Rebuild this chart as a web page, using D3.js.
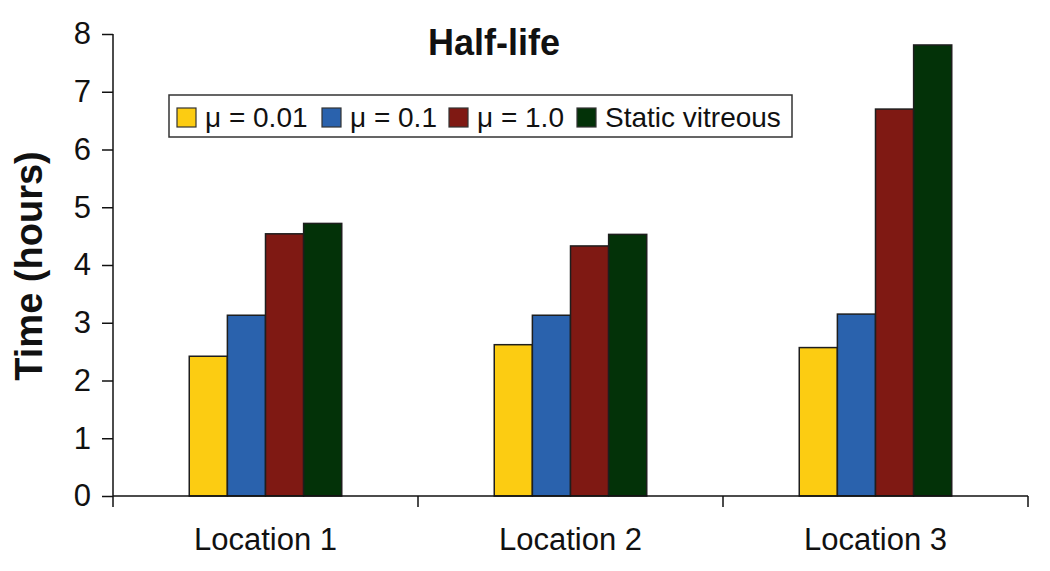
<!DOCTYPE html>
<html>
<head>
<meta charset="utf-8">
<script src="https://cdn.jsdelivr.net/npm/d3@7"></script>
<style>
  body { margin: 0; background: #fff; }
  text { font-family: "Liberation Sans", Arial, sans-serif; fill: #111; }
</style>
</head>
<body>
<div id="chart"></div>
<script>
const categories = ["Location 1", "Location 2", "Location 3"];
const series = ["μ = 0.01", "μ = 0.1", "μ = 1.0", "Static vitreous"];
const colors = ["#fccc12", "#2a62ad", "#7f1913", "#033208"];
// values per series, one per location
const mu001 = [2.42, 2.62, 2.57];
const mu01 = [3.13, 3.13, 3.15];
const mu10 = [4.54, 4.33, 6.70];
const staticV = [4.72, 4.53, 7.81];
const yTicks = [0, 1, 2, 3, 4, 5, 6, 7, 8];

const values = [mu001, mu01, mu10, staticV];

const width = 1050;
const height = 571;
const margin = {left: 113, right: 22, top: 34, bottom: 75};

const svg = d3.select("#chart")
    .append("svg")
    .attr("width", width)
    .attr("height", height);

const x = d3.scaleBand()
    .domain(categories)
    .range([margin.left, width - margin.right])
    .paddingInner(0)
    .paddingOuter(0);

const xInner = d3.scaleBand()
    .domain(series)
    .range([0, x.bandwidth()])
    .paddingOuter(2)   // bars fill the middle half of each band
    .paddingInner(0);

const y = d3.scaleLinear()
    .domain([0, 8])
    .range([height - margin.bottom, margin.top]);

// bars
const groups = svg.selectAll("g.loc")
    .data(categories)
    .enter()
    .append("g")
    .attr("class", "loc")
    .attr("transform", d => "translate(" + x(d) + ",0)");

groups.selectAll("rect")
    .data((d, ci) => series.map((s, si) => ({s: s, v: values[si][ci], i: si})))
    .enter()
    .append("rect")
    .attr("x", d => xInner(d.s))
    .attr("y", d => y(d.v))
    .attr("width", xInner.bandwidth())
    .attr("height", d => y(0) - y(d.v))
    .attr("fill", d => colors[d.i])
    .attr("stroke", "#1e1e1e")
    .attr("stroke-width", 1.5);

// y axis
const yAxis = svg.append("g")
    .attr("transform", "translate(" + margin.left + ",0)")
    .call(d3.axisLeft(y).tickValues(yTicks).tickSize(11).tickPadding(11).tickFormat(d3.format("d")));
yAxis.select(".domain").attr("d", "M0," + y(8) + "V" + (y(0) + 11)).attr("stroke", "#111").attr("stroke-width", 1.5);
yAxis.selectAll(".tick line").attr("stroke", "#111").attr("stroke-width", 1.5);
yAxis.selectAll(".tick text").style("font-size", "31px").attr("fill", "#111");

// x axis: ticks at category boundaries
const xAxis = svg.append("g");
xAxis.append("line")
    .attr("x1", margin.left).attr("x2", width - margin.right)
    .attr("y1", y(0)).attr("y2", y(0))
    .attr("stroke", "#111").attr("stroke-width", 1.5);
const bounds = categories.map(c => x(c)).concat([x(categories[categories.length - 1]) + x.bandwidth()]);
xAxis.selectAll("line.tk")
    .data(bounds.slice(1))
    .enter()
    .append("line")
    .attr("class", "tk")
    .attr("x1", d => d).attr("x2", d => d)
    .attr("y1", y(0)).attr("y2", y(0) + 11)
    .attr("stroke", "#111").attr("stroke-width", 1.5);
xAxis.selectAll("text")
    .data(categories)
    .enter()
    .append("text")
    .attr("x", d => x(d) + x.bandwidth() / 2)
    .attr("y", 550)
    .attr("text-anchor", "middle")
    .style("font-size", "31px")
    .text(d => d);

// title
svg.append("text")
    .attr("x", 494)
    .attr("y", 55)
    .attr("text-anchor", "middle")
    .style("font-size", "36px")
    .style("font-weight", "bold")
    .text("Half-life");

// y label
svg.append("text")
    .attr("transform", "translate(42,266) rotate(-90)")
    .attr("text-anchor", "middle")
    .style("font-size", "38px")
    .style("font-weight", "bold")
    .text("Time (hours)");

// legend
const legend = svg.append("g").attr("transform", "translate(169,95)");
legend.append("rect")
    .attr("width", 623).attr("height", 42)
    .attr("fill", "#fff").attr("stroke", "#333").attr("stroke-width", 1.5);
const legendX = [8, 153, 280, 408];
const items = legend.selectAll("g.item")
    .data(series)
    .enter()
    .append("g")
    .attr("class", "item")
    .attr("transform", (d, i) => "translate(" + legendX[i] + ",13)");
items.append("rect")
    .attr("width", 19).attr("height", 19)
    .attr("fill", (d, i) => colors[i])
    .attr("stroke", "#333").attr("stroke-width", 1.2);
items.append("text")
    .attr("x", 28)
    .attr("y", 19)
    .style("font-size", "28px")
    .text(d => d);
</script>
</body>
</html>
